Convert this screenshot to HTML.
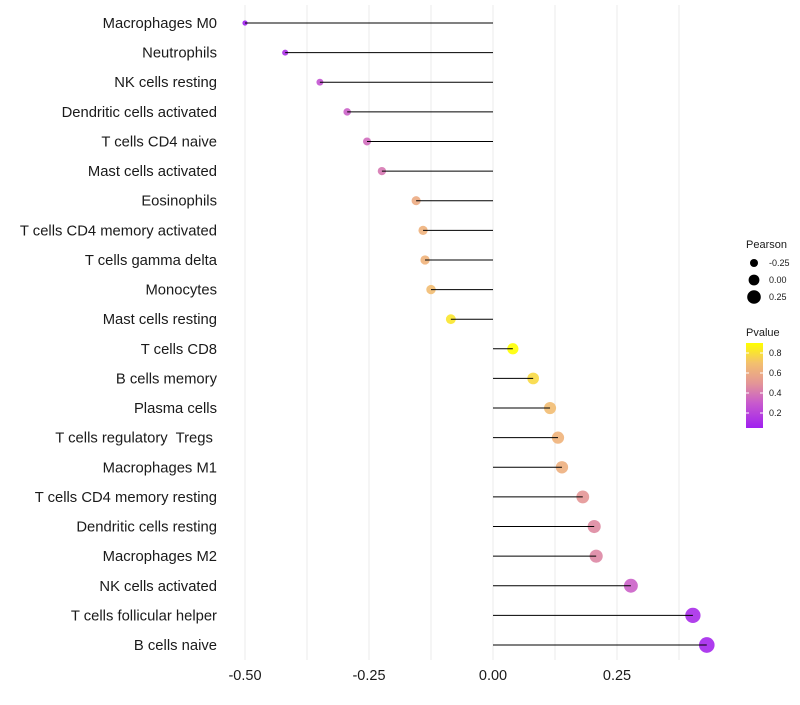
<!DOCTYPE html>
<html><head><meta charset="utf-8"><style>
body{margin:0;background:#fff;font-family:"Liberation Sans",sans-serif;}
text{white-space:pre;}
</style></head><body>
<svg id="chart" width="800" height="700" xmlns="http://www.w3.org/2000/svg" font-family="Liberation Sans, sans-serif"></svg>
<script>
const categories=["Macrophages M0","Neutrophils","NK cells resting","Dendritic cells activated","T cells CD4 naive","Mast cells activated","Eosinophils","T cells CD4 memory activated","T cells gamma delta","Monocytes","Mast cells resting","T cells CD8","B cells memory","Plasma cells","T cells regulatory  Tregs ","Macrophages M1","T cells CD4 memory resting","Dendritic cells resting","Macrophages M2","NK cells activated","T cells follicular helper","B cells naive"];
const pearson=[-0.50,-0.419,-0.349,-0.294,-0.254,-0.224,-0.155,-0.141,-0.137,-0.125,-0.085,0.040,0.081,0.115,0.131,0.139,0.181,0.204,0.208,0.278,0.403,0.431];
const pvalue=[0.05,0.12,0.27,0.32,0.36,0.40,0.60,0.63,0.64,0.68,0.82,0.9,0.78,0.68,0.64,0.62,0.50,0.46,0.45,0.32,0.10,0.08];
const xTicks=[-0.5,-0.25,0,0.25];
const xTickLabels=["-0.50","-0.25","0.00","0.25"];
const sizeLegend=[-0.25,0,0.25];
const pLegend=[0.2,0.4,0.6,0.8];

const svg=document.getElementById('chart');
const NS='http://www.w3.org/2000/svg';
function mk(t,a,p){const e=document.createElementNS(NS,t);for(const k in a)e.setAttribute(k,a[k]);(p||svg).appendChild(e);return e;}
const X=v=>493+v*496;
const Y=i=>23+i*(622/21);
const R=v=>5.4+5.6*v;
const stops=[[0.05,[160,32,240]],[0.3,[200,90,205]],[0.5,[228,150,150]],[0.7,[243,192,110]],[0.9,[255,255,0]]];
function col(p){p=Math.max(0.05,Math.min(0.9,p));for(let i=0;i<stops.length-1;i++){const a=stops[i],b=stops[i+1];if(p<=b[0]){const t=(p-a[0])/(b[0]-a[0]);const c=a[1].map((v,j)=>Math.round(v+(b[1][j]-v)*t));return `rgb(${c})`;}}return 'rgb(255,255,0)';}
for(let g=-0.5;g<=0.45;g+=0.125){const l=mk('line',{x1:X(g),x2:X(g),y1:5,y2:660,stroke:'#ebebeb','stroke-width':1});

}
categories.forEach((c,i)=>{
const y=Y(i);
const t=mk('text',{x:217,y:y+5,'text-anchor':'end','font-size':14.8,fill:'#1a1a1a'});t.textContent=c;


const pt=mk('circle',{cx:X(pearson[i]),cy:y,r:R(pearson[i]),fill:col(pvalue[i]),'fill-opacity':0.9});


const ln=mk('line',{x1:X(0),x2:X(pearson[i]),y1:y,y2:y,stroke:'#000','stroke-width':1});


});
xTicks.forEach((v,i)=>{const t=mk('text',{x:X(v),y:680,'text-anchor':'middle','font-size':14.5,fill:'#1a1a1a'});t.textContent=xTickLabels[i];

});
const lg=mk('g',{});


const pt=mk('text',{x:746,y:248,'font-size':11,fill:'#1a1a1a'},lg);pt.textContent='Pearson';
sizeLegend.forEach((v,i)=>{const y=263+i*17;
const c=mk('circle',{cx:754,cy:y,r:R(v),fill:'#000'},lg);


const t=mk('text',{x:769,y:y+3,'font-size':9,fill:'#1a1a1a'},lg);t.textContent=v===0?'0.00':v.toFixed(2);});
const pv=mk('text',{x:746,y:336,'font-size':11,fill:'#1a1a1a'},lg);pv.textContent='Pvalue';
const defs=mk('defs',{});const gr=mk('linearGradient',{id:'pg',x1:0,y1:1,x2:0,y2:0},defs);
stops.forEach(s=>mk('stop',{offset:(s[0]-0.05)/0.85,'stop-color':`rgb(${s[1]})`},gr));
const bar=mk('rect',{x:746,y:343,width:17,height:85,fill:'url(#pg)'},lg);


pLegend.forEach(v=>{const y=343+(0.9-v)*100;
mk('line',{x1:746,x2:749,y1:y,y2:y,stroke:'#fff'},lg);mk('line',{x1:760,x2:763,y1:y,y2:y,stroke:'#fff'},lg);
const t=mk('text',{x:769,y:y+3,'font-size':9,fill:'#1a1a1a'},lg);t.textContent=v.toFixed(1);});
</script>
</body></html>
